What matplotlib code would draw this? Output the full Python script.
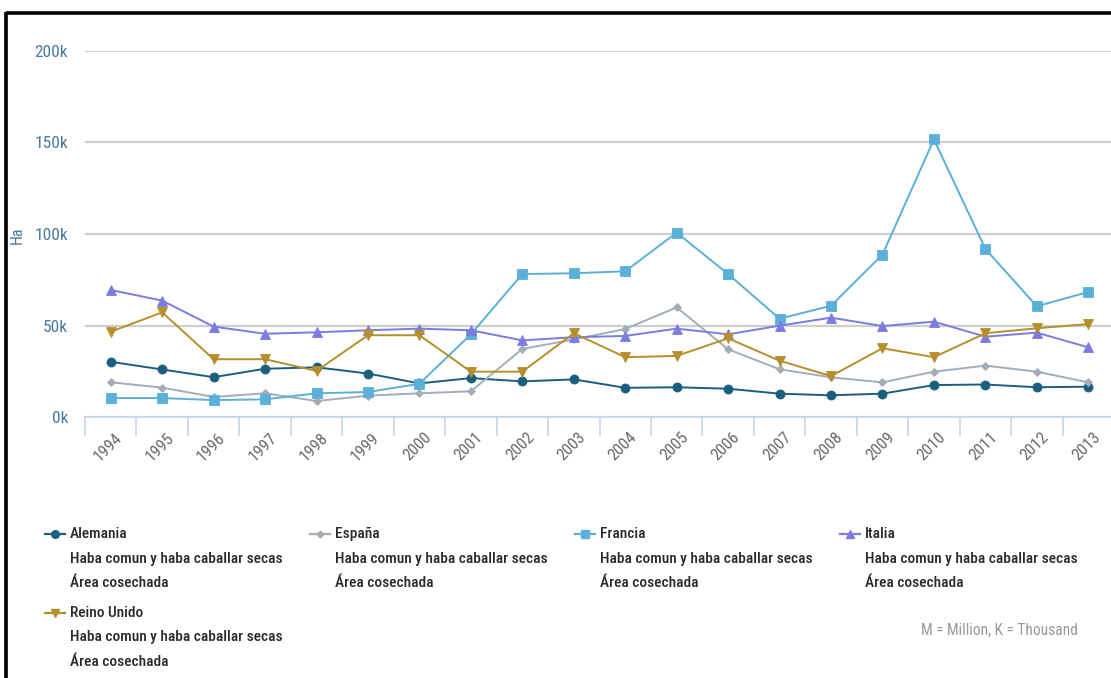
import matplotlib
matplotlib.use("Agg")
import matplotlib.pyplot as plt
from matplotlib.lines import Line2D
from matplotlib.ticker import FuncFormatter, FixedLocator

plt.rcParams['font.family'] = ['Roboto Condensed', 'DejaVu Sans']

years = [str(y) for y in range(1994, 2014)]

alemania = [30.3, 26.1, 21.9, 26.5, 27.3, 23.9, 18.5, 21.4, 19.6, 20.7,
            16.1, 16.4, 15.6, 12.9, 12.0, 12.9, 17.6, 17.9, 16.4, 16.7]
espana = [19.1, 16.2, 11.1, 13.1, 8.9, 11.8, 13.1, 14.2, 37.3, 42.5,
          48.2, 60.0, 37.1, 26.2, 21.8, 19.1, 24.9, 28.2, 24.9, 19.1]
francia = [10.5, 10.5, 9.4, 9.8, 13.1, 13.8, 18.3, 45.3, 78.2, 78.6,
           79.7, 100.8, 78.2, 53.8, 60.9, 88.8, 151.7, 91.9, 60.6, 68.4]
italia = [69.5, 63.7, 49.5, 45.6, 46.4, 47.5, 48.4, 47.5, 42.0, 43.7,
          44.4, 48.4, 45.3, 50.0, 54.4, 49.8, 52.2, 44.0, 46.2, 38.2]
reino_unido = [46.7, 57.3, 31.7, 31.7, 25.3, 44.8, 44.8, 24.9, 24.9, 45.9,
               32.8, 33.5, 43.1, 30.9, 22.5, 37.7, 32.8, 45.9, 48.6, 50.9]

series_names = ["Alemania", "España", "Francia", "Italia", "Reino Unido"]
series_values = [alemania, espana, francia, italia, reino_unido]
subtitle_1 = "Haba comun y haba caballar secas"
subtitle_2 = "Área cosechada"
y_ticks = [0, 50, 100, 150, 200]
note = "M = Million, K = Thousand"

colors = ["#1b5f80", "#a3adb7", "#5ab0d8", "#7b7be0", "#b58f2c"]
markers = ["o", "D", "s", "^", "v"]
msizes = [6.5, 4.5, 6.5, 6.5, 6.5]

W, H = 1111, 678
fig = plt.figure(figsize=(W / 100, H / 100), dpi=100)

def fx(px):
    return px / W

def fy(py):
    return 1 - py / H

ax = fig.add_axes([fx(85), fy(417.3), fx(1114 - 85), (417.3 - 50.9) / H])
x = list(range(len(years)))
for vals, c, m, ms in zip(series_values, colors, markers, msizes):
    ax.plot(x, [v * 1000 for v in vals], color=c, marker=m, markersize=ms,
            linewidth=1.4, markeredgewidth=0.6, markeredgecolor=c, zorder=3)

ax.set_xlim(-0.5, len(years) - 0.5)
ax.set_ylim(0, 200000)
ax.yaxis.set_major_locator(FixedLocator([v * 1000 for v in y_ticks]))
ax.yaxis.set_major_formatter(FuncFormatter(lambda v, p: f"{int(v / 1000)}k"))
ax.grid(axis="y", color="#cfcfcf", linewidth=1.6, zorder=0)
for s in ["top", "right", "left"]:
    ax.spines[s].set_visible(False)
ax.spines["bottom"].set_color("#c5d5e5")
ax.spines["bottom"].set_linewidth(1.2)
ax.tick_params(axis="y", length=0, pad=12, labelsize=12.5, labelcolor="#4a7a9e")

# category boundary ticks
ax.set_xticks([i - 0.5 for i in range(len(years) + 1)], minor=False)
ax.set_xticklabels([])
ax.tick_params(axis="x", which="major", length=14, width=1.2, color="#c5d5e5")
ax.set_xticks(x, minor=True)
ax.set_xticklabels(years, minor=True, rotation=45, ha="right", va="top",
                   rotation_mode="anchor", color="#6a6a6a", fontsize=12)
ax.tick_params(axis="x", which="minor", length=0, pad=9)
for lbl in ax.get_xticklabels(minor=True):
    lbl.set_x(lbl.get_position()[0])
offset = matplotlib.transforms.ScaledTranslation(4 / 100, 0, fig.dpi_scale_trans)
for lbl in ax.get_xticklabels(minor=True):
    lbl.set_transform(lbl.get_transform() + offset)

fig.text(fx(17), fy(235), "Ha", rotation=90, ha="center", va="center",
         color="#4a7a9e", fontsize=11.5)

# legend
cols = [45, 310, 575, 840]
rows = [534, 613]
line_gap = 24.5
for i, (name, c, m) in enumerate(zip(series_names, colors, markers)):
    lx = cols[i % 4]
    ly = rows[i // 4]
    fig.add_artist(Line2D([fx(lx), fx(lx + 20)], [fy(ly), fy(ly)],
                          transform=fig.transFigure, color=c, linewidth=1.6))
    fig.add_artist(Line2D([fx(lx + 10)], [fy(ly)], transform=fig.transFigure,
                          color=c, marker=m, markersize=msizes[i] - 1,
                          linestyle="none"))
    for k, t in enumerate([name, subtitle_1, subtitle_2]):
        fig.text(fx(lx + 25), fy(ly + k * line_gap), t, ha="left",
                 va="center", fontsize=11.1, color="#2a2a2a", weight=500)

fig.text(fx(1078), fy(630), note, ha="right", va="center", fontsize=11.2,
         color="#9a9a9a")

# frame edges
fig.add_artist(Line2D([fx(6), fx(W)], [fy(13), fy(13)],
                      transform=fig.transFigure, color="black", linewidth=2.6,
                      solid_capstyle="butt"))
fig.add_artist(Line2D([fx(6), fx(6)], [fy(12), fy(H)],
                      transform=fig.transFigure, color="black", linewidth=2.6,
                      solid_capstyle="butt"))

fig.savefig("out.png", dpi=100)
